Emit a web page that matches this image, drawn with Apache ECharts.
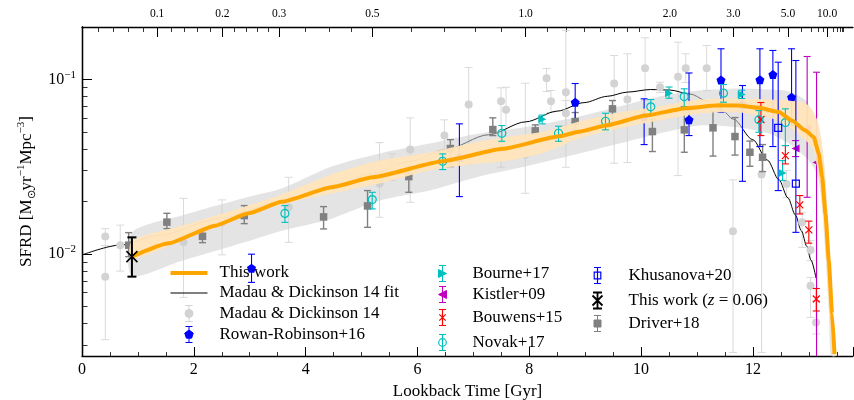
<!DOCTYPE html>
<html>
<head>
<meta charset="utf-8">
<script src="https://cdn.jsdelivr.net/npm/echarts@6/dist/echarts.min.js"></script>
<style>
  html, body { margin: 0; padding: 0; background: #fff; }
  #chart { width: 854px; height: 400px; }
</style>
</head>
<body>
<div id="chart"></div>
<script>
// all values: lookback time [Gyr], SFRD [Msun/yr/Mpc^3]
const thisWorkLine = [[0.893, 0.00965], [1.548, 0.0115], [2.38, 0.01453], [2.977, 0.0171], [3.571, 0.0199], [4.464, 0.02411], [5.202, 0.02751], [6.452, 0.034], [7.523, 0.04004], [8.536, 0.04727], [8.893, 0.0502], [9.37, 0.05447], [10.084, 0.06217], [10.798, 0.06842], [11.393, 0.0712], [11.75, 0.07091], [12.107, 0.06879], [12.464, 0.0651], [12.702, 0.058], [12.941, 0.05098], [13.089, 0.04667], [13.179, 0.03748], [13.238, 0.02751], [13.298, 0.01696], [13.357, 0.00915], [13.416, 0.004526], [13.459, 0.00267]];
const thisWorkBandHi = [[0.893, 0.01192], [1.786, 0.01453], [2.857, 0.01843], [3.571, 0.02189], [4.464, 0.02851], [5.321, 0.0343], [6.214, 0.03813], [6.929, 0.04294], [7.643, 0.0471], [8.268, 0.05031], [8.893, 0.05741], [9.607, 0.06467], [10.321, 0.06998], [11.036, 0.07677], [11.75, 0.0778], [12.286, 0.07677], [12.643, 0.07576], [12.946, 0.07283], [13.089, 0.06467], [13.179, 0.05447], [13.232, 0.04182], [13.286, 0.03006], [13.339, 0.01659], [13.393, 0.00802], [13.446, 0.00414], [13.482, 0.00261]];
const thisWorkBandLo = [[0.893, 0.0094], [1.786, 0.01192], [2.857, 0.01637], [3.571, 0.01918], [4.464, 0.02218], [5.321, 0.02531], [6.214, 0.03006], [6.929, 0.03253], [7.643, 0.0343], [8.268, 0.03813], [8.893, 0.04587], [9.607, 0.05236], [10.321, 0.05818], [11.036, 0.0638], [11.75, 0.06467], [12.286, 0.06053], [12.643, 0.05375], [12.946, 0.04467], [13.089, 0.03913], [13.143, 0.03211], [13.214, 0.02308], [13.268, 0.01453], [13.321, 0.00802], [13.375, 0.00414], [13.429, 0.00261]];
const greyBandHi = [[0.893, 0.01325], [1.786, 0.01659], [3.0, 0.02132], [3.571, 0.0237], [4.464, 0.03168], [5.321, 0.03763], [6.214, 0.04294], [7.107, 0.04899], [8.0, 0.05375], [8.893, 0.06134], [9.607, 0.06998], [10.321, 0.0799], [11.036, 0.08648], [11.75, 0.0888], [12.286, 0.0876], [12.643, 0.08534], [12.946, 0.07576], [13.089, 0.06217], [13.179, 0.05236], [13.25, 0.03913], [13.304, 0.02308], [13.357, 0.01192], [13.411, 0.0054], [13.464, 0.00261]];
const greyBandLo = [[0.893, 0.0075], [1.786, 0.00915], [3.0, 0.01192], [3.571, 0.0136], [4.464, 0.01594], [5.321, 0.02022], [6.214, 0.02308], [7.107, 0.02777], [8.0, 0.03211], [8.893, 0.03763], [9.607, 0.04294], [10.321, 0.04899], [11.036, 0.05447], [11.75, 0.05304], [12.286, 0.04899], [12.643, 0.04294], [12.946, 0.03568], [13.089, 0.03127], [13.179, 0.02634], [13.25, 0.01659], [13.304, 0.00915], [13.357, 0.00473], [13.393, 0.00261]];
const mdFit = [[0, 0.00987], [0.696, 0.01126], [1.343, 0.01275], [2.51, 0.01608], [3.525, 0.01988], [4.414, 0.02415], [5.194, 0.02887], [5.88, 0.034], [6.488, 0.0395], [7.273, 0.04823], [7.936, 0.05719], [8.498, 0.06587], [8.98, 0.0737], [9.395, 0.08011], [9.756, 0.0847], [10.167, 0.0876], [10.515, 0.08703], [10.879, 0.0825], [11.181, 0.07539], [11.435, 0.06729], [11.651, 0.05925], [11.997, 0.0452], [12.259, 0.03451], [12.464, 0.02668], [12.627, 0.02095], [12.76, 0.01671], [12.869, 0.01353], [12.961, 0.0111], [13.038, 0.00922], [13.13, 0.00724]];

// points: [lookback, sfrd, lower, upper]
const md14 = [[0.416, 0.01257, 0.01116, 0.01397], [0.416, 0.00741, 0.003223, 0.01116], [0.684, 0.01123, 0.00797, 0.01463], [1.816, 0.01169, 0.005636, 0.02084], [2.505, 0.01522, 0.00988, 0.02041], [3.696, 0.01851, 0.01166, 0.02751], [5.321, 0.02531, 0.01622, 0.04349], [5.545, 0.03168, 0.02634, 0.03748], [5.87, 0.03966, 0.01977, 0.06029], [6.482, 0.04771, 0.0314, 0.05872], [6.916, 0.07187, 0.03284, 0.1172], [7.495, 0.07507, 0.0314, 0.08962], [7.584, 0.067, 0.04467, 0.09032], [7.929, 0.03698, 0.02227, 0.09524], [8.309, 0.1017, 0.08534, 0.1157], [8.388, 0.07507, 0.06467, 0.08648], [8.655, 0.08456, 0.0314, 0.191], [8.655, 0.06406, 0.05447, 0.07576], [9.518, 0.09486, 0.03311, 0.1373], [9.755, 0.07677, 0.03341, 0.1404], [10.071, 0.1161, 0.07576, 0.1735], [10.339, 0.09032, 0.08423, 0.09649], [10.661, 0.1036, 0.02813, 0.1637], [10.798, 0.1161, 0.0961, 0.1404], [11.173, 0.1161, 0.08648, 0.1567], [11.643, 0.01348, 0.002726, 0.02659], [12.155, 0.02851, 0.002726, 0.0343], [12.602, 0.02521, 0.02104, 0.03006], [12.88, 0.01518, 0.01091, 0.01733], [13.03, 0.01054, 0.00915, 0.01192], [13.03, 0.00658, 0.004328, 0.00734], [13.13, 0.004051, 0.003475, 0.0054]];
const driver18 = [[0.834, 0.01123, 0.00965, 0.01325], [1.518, 0.01522, 0.01397, 0.0171], [2.155, 0.01262, 0.01161, 0.01379], [2.902, 0.01659, 0.01492, 0.01893], [4.321, 0.01631, 0.01391, 0.01868], [5.107, 0.01885, 0.01421, 0.02308], [5.845, 0.02777, 0.02256, 0.03168], [6.589, 0.0402, 0.03168, 0.04526], [7.348, 0.05166, 0.04771, 0.06029], [8.107, 0.05078, 0.04932, 0.05497], [8.821, 0.05741, 0.05166, 0.06467], [9.488, 0.06789, 0.0557, 0.07576], [10.202, 0.05031, 0.03864, 0.05895], [10.773, 0.05146, 0.03828, 0.06492], [11.286, 0.05284, 0.0364, 0.06596], [11.679, 0.0471, 0.03688, 0.06053], [11.946, 0.03828, 0.03181, 0.04437], [12.173, 0.03583, 0.02966, 0.04236]];
const rowanRobinson16 = [[3.032, 0.00829, 0.00687, 0.00997], [6.75, 0.03568, 0.02132, 0.0557], [8.821, 0.07409, 0.05689, 0.09486], [10.054, 0.06134, 0.04236, 0.07749], [10.857, 0.0588, 0.04771, 0.109], [11.429, 0.09934, 0.06492, 0.15], [11.813, 0.07187, 0.02609, 0.09239], [12.125, 0.09961, 0.04127, 0.15], [12.357, 0.1068, 0.04127, 0.1467], [12.691, 0.07913, 0.05447, 0.15]];
const bourne17 = [[8.232, 0.05918, 0.0557, 0.06255], [10.5, 0.08345, 0.07811, 0.09057], [11.8, 0.08202, 0.0778, 0.08683], [12.53, 0.02915, 0.02634, 0.0343]];
const kistler09 = [[12.763, 0.0402, 0.03616, 0.04467], [12.97, 0.05236, 0.02113, 0.1355], [13.138, 0.03341, 0.0025, 0.1101]];
const bouwens15 = [[12.143, 0.05895, 0.04771, 0.07379], [12.58, 0.03664, 0.03284, 0.04182], [12.839, 0.0191, 0.01696, 0.02161], [13.0, 0.01373, 0.01153, 0.01542], [13.134, 0.005518, 0.00471, 0.006339]];
const novak17 = [[3.629, 0.01708, 0.01518, 0.01893], [5.191, 0.0205, 0.01812, 0.02256], [6.452, 0.034, 0.03046, 0.03748], [7.509, 0.04919, 0.04426, 0.05447], [8.523, 0.04919, 0.04426, 0.05397], [9.363, 0.05764, 0.05146, 0.06406], [10.173, 0.06971, 0.06297, 0.07677], [10.771, 0.07988, 0.06998, 0.08843], [11.473, 0.08345, 0.07409, 0.09361], [12.107, 0.0588, 0.04984, 0.06637], [12.58, 0.05666, 0.04182, 0.06789]];
const khusanova20 = [[12.452, 0.05284, 0.02308, 0.1257], [12.768, 0.02531, 0.0133, 0.1285]];
const thisWorkZ006 = [[0.893, 0.00965, 0.00741, 0.01245]];

// axes
const X_MAX = 13.79;
const Y_MIN = 0.0026, Y_MAX = 0.2;
const yMajor = [0.01, 0.1];
const yMajorLabels = ['10{sup|−2}', '10{sup|−1}'];
const yMinor = [0.003, 0.004, 0.005, 0.006, 0.007, 0.008, 0.009, 0.02, 0.03, 0.04, 0.05, 0.06, 0.07, 0.08, 0.09];
const zMajor = [0.1, 0.2, 0.3, 0.5, 1, 2, 3, 5, 10];
const zMajorLabels = ['0.1', '0.2', '0.3', '0.5', '1.0', '2.0', '3.0', '5.0', '10.0'];
const zMinor = [0.02, 0.04, 0.06, 0.08, 0.12, 0.14, 0.16, 0.18, 0.22, 0.24, 0.26, 0.28, 0.35, 0.4, 0.45, 0.6, 0.7, 0.8, 0.9, 1.1, 1.2, 1.3, 1.4, 1.5, 1.6, 1.7, 1.8, 1.9, 2.25, 2.5, 2.75, 3.5, 4, 4.5, 6, 7, 8, 9, 12, 14, 16, 18, 20];

const FONT = 'Liberation Serif';

// flat LCDM (Planck 15) lookback time, for the redshift axis on top
function lookback(z) {
  const H0 = 67.74, Om = 0.3089, OL = 1 - Om;
  const tH = 977.79 / H0;
  const k = Math.sqrt(OL / Om);
  const age = zz => tH * 2 / (3 * Math.sqrt(OL)) * Math.asinh(k * Math.pow(1 + zz, -1.5));
  return age(0) - age(z);
}
const zMajorT = zMajor.map(lookback);
const zMinorT = zMinor.map(lookback);

function errBars(name, rows, color, lw, cap, z) {
  return {
    type: 'custom', name: name, data: rows, z: z, clip: true,
    encode: { x: 0, y: 1 },
    renderItem: function (params, api) {
      const a = api.coord([api.value(0), api.value(2)]);
      const b = api.coord([api.value(0), api.value(3)]);
      const st = { stroke: color, lineWidth: lw };
      return {
        type: 'group', children: [
          { type: 'line', shape: { x1: a[0], y1: a[1], x2: b[0], y2: b[1] }, style: st },
          { type: 'line', shape: { x1: a[0] - cap / 2, y1: a[1], x2: a[0] + cap / 2, y2: a[1] }, style: st },
          { type: 'line', shape: { x1: b[0] - cap / 2, y1: b[1], x2: b[0] + cap / 2, y2: b[1] }, style: st }
        ]
      };
    }
  };
}

function points(name, rows, symbol, size, fill, stroke, bw, z) {
  return {
    type: 'scatter', name: name, data: rows, z: z,
    encode: { x: 0, y: 1 },
    symbol: symbol, symbolSize: size,
    itemStyle: { color: fill, borderColor: stroke, borderWidth: bw, opacity: 1 }
  };
}

function band(hi, lo, fill, z) {
  return {
    type: 'custom', data: [hi[0]], z: z, silent: true,
    encode: { x: 0, y: 1 },
    renderItem: function (params, api) {
      const pts = hi.concat(lo.slice().reverse()).map(p => api.coord(p));
      return { type: 'polygon', shape: { points: pts, smooth: 0.25 }, style: { fill: fill } };
    }
  };
}

const PENTAGON = 'path://M0,-1L0.951,-0.309L0.588,0.809L-0.588,0.809L-0.951,-0.309Z';
const TRI_RIGHT = 'path://M-1,-1L1,0L-1,1Z';
const TRI_LEFT = 'path://M1,-1L-1,0L1,1Z';
const CROSS = 'path://M0,0L1,1M1,0L0,1';

// legend icons drawn as error bars with a marker, in a W x H box
function icon(W, H, cx, capHalf, marker) {
  const cy = H / 2, t = 1, b = H - 1;
  let p = 'M0 0L0 0M' + W + ' ' + H + 'L' + W + ' ' + H;
  if (capHalf > 0) {
    p += 'M' + cx + ' ' + t + 'L' + cx + ' ' + b;
    p += 'M' + (cx - capHalf) + ' ' + t + 'L' + (cx + capHalf) + ' ' + t;
    p += 'M' + (cx - capHalf) + ' ' + b + 'L' + (cx + capHalf) + ' ' + b;
  }
  return 'path://' + p + marker(cx, cy);
}
const mCircle = r => (x, y) => 'M' + (x - r) + ' ' + y + 'A' + r + ' ' + r + ' 0 1 0 ' + (x + r) + ' ' + y + 'A' + r + ' ' + r + ' 0 1 0 ' + (x - r) + ' ' + y + 'Z';
const mSquare = s => (x, y) => 'M' + (x - s) + ' ' + (y - s) + 'L' + (x + s) + ' ' + (y - s) + 'L' + (x + s) + ' ' + (y + s) + 'L' + (x - s) + ' ' + (y + s) + 'Z';
const mPent = r => (x, y) => 'M' + x + ' ' + (y - r) + 'L' + (x + 0.951 * r) + ' ' + (y - 0.309 * r) + 'L' + (x + 0.588 * r) + ' ' + (y + 0.809 * r) + 'L' + (x - 0.588 * r) + ' ' + (y + 0.809 * r) + 'L' + (x - 0.951 * r) + ' ' + (y - 0.309 * r) + 'Z';
const mTriR = r => (x, y) => 'M' + (x - r) + ' ' + (y - r) + 'L' + (x + r) + ' ' + y + 'L' + (x - r) + ' ' + (y + r) + 'Z';
const mTriL = r => (x, y) => 'M' + (x + r) + ' ' + (y - r) + 'L' + (x - r) + ' ' + y + 'L' + (x + r) + ' ' + (y + r) + 'Z';
const mX = r => (x, y) => 'M' + (x - r) + ' ' + (y - r) + 'L' + (x + r) + ' ' + (y + r) + 'M' + (x + r) + ' ' + (y - r) + 'L' + (x - r) + ' ' + (y + r);
const mBar = (x0, x1, h) => (x, y) => 'M' + x0 + ' ' + (y - h / 2) + 'L' + x1 + ' ' + (y - h / 2) + 'L' + x1 + ' ' + (y + h / 2) + 'L' + x0 + ' ' + (y + h / 2) + 'Z';

const LH = 18;
const legendText = {
  fontFamily: FONT, fontSize: 17, color: '#000', lineHeight: LH,
  rich: { i: { fontFamily: FONT, fontSize: 17, fontStyle: 'italic', lineHeight: LH } }
};
function legendBox(left, W, items) {
  return {
    orient: 'vertical', left: left, top: 264, padding: 0,
    itemWidth: W, itemHeight: LH, itemGap: 2,
    selectedMode: false, textStyle: legendText,
    formatter: n => n === 'This work (z = 0.06)' ? 'This work ({i|z} = 0.06)' : n,
    data: items
  };
}

const chart = echarts.init(document.getElementById('chart'), null, { renderer: 'canvas' });
chart.setOption({
  animation: false,
  backgroundColor: '#fff',
  grid: { left: 82, right: 1, top: 27, bottom: 44, containLabel: false, outerBoundsMode: 'none' },
  xAxis: [
    {
      type: 'value', min: 0, max: X_MAX, interval: 2, position: 'bottom',
      name: 'Lookback Time [Gyr]', nameLocation: 'middle', nameGap: 23,
      nameTextStyle: { fontFamily: FONT, fontSize: 17, color: '#000' },
      axisLine: { lineStyle: { color: '#000', width: 1.3 } },
      axisTick: { inside: true, length: 9, lineStyle: { color: '#000', width: 1 } },
      minorTick: { show: true, splitNumber: 4, length: 4, lineStyle: { color: '#000', width: 0.8 } },
      axisLabel: { fontFamily: FONT, fontSize: 16, color: '#000', margin: 6, showMaxLabel: false },
      splitLine: { show: false }
    },
    {
      type: 'value', min: 0, max: X_MAX, position: 'top',
      name: 'z', nameLocation: 'middle', nameGap: 19,
      nameTextStyle: { fontFamily: FONT, fontSize: 14, fontStyle: 'italic', color: '#000' },
      axisLine: { lineStyle: { color: '#000', width: 1.3 } },
      axisTick: { inside: true, length: 10, customValues: zMajorT, lineStyle: { color: '#000', width: 1 } },
      axisLabel: {
        customValues: zMajorT, fontFamily: FONT, fontSize: 11.5, color: '#000', margin: 7,
        formatter: v => {
          let best = 0;
          zMajorT.forEach((t, i) => { if (Math.abs(t - v) < Math.abs(zMajorT[best] - v)) best = i; });
          return zMajorLabels[best];
        }
      },
      splitLine: { show: false }
    },
    {
      type: 'value', min: 0, max: X_MAX, position: 'top',
      axisLine: { show: false },
      axisTick: { inside: true, length: 5, customValues: zMinorT, lineStyle: { color: '#000', width: 0.8 } },
      axisLabel: { show: false },
      splitLine: { show: false }
    }
  ],
  yAxis: [
    {
      type: 'log', logBase: 10, min: Y_MIN, max: Y_MAX, position: 'left',
      name: 'SFRD [M{sub|⊙}yr{sup|−1}Mpc{sup|−3}]', nameLocation: 'middle', nameGap: 41,
      nameTextStyle: {
        fontFamily: FONT, fontSize: 17, color: '#000', lineHeight: 22,
        rich: {
          sub: { fontFamily: FONT, fontSize: 11, lineHeight: 11, verticalAlign: 'bottom' },
          sup: { fontFamily: FONT, fontSize: 11, lineHeight: 11, verticalAlign: 'top' }
        }
      },
      axisLine: { lineStyle: { color: '#000', width: 1.3 } },
      axisTick: { inside: true, length: 10, customValues: yMajor, lineStyle: { color: '#000', width: 1 } },
      axisLabel: {
        customValues: yMajor, fontFamily: FONT, fontSize: 16, color: '#000', margin: 6, lineHeight: 20,
        formatter: v => yMajorLabels[v < 0.05 ? 0 : 1],
        rich: { sup: { fontFamily: FONT, fontSize: 11, lineHeight: 10, verticalAlign: 'top' } }
      },
      splitLine: { show: false }, minorTick: { show: false }
    },
    {
      type: 'log', logBase: 10, min: Y_MIN, max: Y_MAX, position: 'left',
      axisLine: { show: false },
      axisTick: { inside: true, length: 5.5, customValues: yMinor, lineStyle: { color: '#000', width: 0.8 } },
      axisLabel: { show: false }, splitLine: { show: false }
    },
    {
      type: 'log', logBase: 10, min: Y_MIN, max: Y_MAX, position: 'right',
      axisLine: { show: true, lineStyle: { color: '#000', width: 1.3 } },
      axisTick: { show: false }, axisLabel: { show: false }, splitLine: { show: false }
    }
  ],
  legend: [
    legendBox(170, 44, [
      { name: 'This work', icon: icon(44, LH, 18.5, 0, mBar(0, 37, 4)), itemStyle: { color: '#ffa500', borderWidth: 0 } },
      { name: 'Madau & Dickinson 14 fit', icon: icon(44, LH, 18.5, 0, mBar(0, 37, 1.2)), itemStyle: { color: '#000', borderWidth: 0 } },
      { name: 'Madau & Dickinson 14', icon: icon(44, LH, 18.5, 3.5, mCircle(4)), itemStyle: { color: '#d3d3d3', borderColor: '#d3d3d3', borderWidth: 1 } },
      { name: 'Rowan-Robinson+16', icon: icon(44, LH, 18.5, 3.5, mPent(4.5)), itemStyle: { color: '#0000ff', borderColor: '#0000ff', borderWidth: 1 } }
    ]),
    legendBox(430, 35, [
      { name: 'Bourne+17', icon: icon(35, LH, 10, 3.5, mTriR(4)), itemStyle: { color: '#00bfbf', borderColor: '#00bfbf', borderWidth: 1 } },
      { name: 'Kistler+09', icon: icon(35, LH, 10, 3.5, mTriL(4)), itemStyle: { color: '#bf00bf', borderColor: '#bf00bf', borderWidth: 1 } },
      { name: 'Bouwens+15', icon: icon(35, LH, 10, 3.5, mX(3.2)), itemStyle: { color: 'none', borderColor: '#ff0000', borderWidth: 1.2 } },
      { name: 'Novak+17', icon: icon(35, LH, 10, 3.5, mCircle(3.8)), itemStyle: { color: 'none', borderColor: '#00bfbf', borderWidth: 1.2 } }
    ]),
    legendBox(585, 36, [
      { name: 'Khusanova+20', icon: icon(36, LH, 10, 3.5, mSquare(3.3)), itemStyle: { color: 'none', borderColor: '#0000ff', borderWidth: 1.2 } },
      { name: 'This work (z = 0.06)', icon: icon(36, LH, 10, 4.5, mX(5)), itemStyle: { color: 'none', borderColor: '#000', borderWidth: 1.8 } },
      { name: 'Driver+18', icon: icon(36, LH, 10, 3.5, mSquare(3.5)), itemStyle: { color: '#808080', borderColor: '#808080', borderWidth: 1 } }
    ])
  ],
  series: [
    errBars('Madau & Dickinson 14', md14, '#dadada', 1, 8, 1),
    points('Madau & Dickinson 14', md14, 'circle', 8, '#d3d3d3', '#d3d3d3', 0, 1),
    {
      type: 'line', name: 'Madau & Dickinson 14 fit', data: mdFit, z: 1,
      showSymbol: false, symbol: 'none', smooth: 0.3, smoothMonotone: 'x',
      color: '#000', lineStyle: { color: '#000', width: 1 }
    },
    band(greyBandHi, greyBandLo, 'rgba(205,205,205,0.55)', 2),
    errBars('Driver+18', driver18, '#808080', 1.4, 7, 3),
    points('Driver+18', driver18, 'rect', 7.5, '#808080', '#808080', 0, 3),
    errBars('Rowan-Robinson+16', rowanRobinson16, '#0000ff', 1.1, 7, 3),
    points('Rowan-Robinson+16', rowanRobinson16, PENTAGON, 9, '#0000ff', '#0000ff', 0, 3),
    errBars('Kistler+09', kistler09, '#bf00bf', 1.1, 7, 3),
    points('Kistler+09', kistler09, TRI_LEFT, 8, '#bf00bf', '#bf00bf', 0, 3),
    band(thisWorkBandHi, thisWorkBandLo, 'rgba(255,228,186,0.94)', 4),
    errBars('Bourne+17', bourne17, '#00bfbf', 1.1, 7, 5),
    points('Bourne+17', bourne17, TRI_RIGHT, 8, '#00bfbf', '#00bfbf', 0, 5),
    errBars('Bouwens+15', bouwens15, '#ff0000', 1.1, 7, 5),
    points('Bouwens+15', bouwens15, CROSS, 7, 'none', '#ff0000', 1.2, 5),
    errBars('Novak+17', novak17, '#00bfbf', 1.1, 7, 5),
    points('Novak+17', novak17, 'circle', 8, 'none', '#00bfbf', 1.2, 5),
    errBars('Khusanova+20', khusanova20, '#0000ff', 1.1, 7, 5),
    points('Khusanova+20', khusanova20, 'rect', 7, 'none', '#0000ff', 1.2, 5),
    {
      type: 'line', name: 'This work', data: thisWorkLine, z: 6,
      showSymbol: false, symbol: 'none', smooth: 0.15, smoothMonotone: 'x',
      color: '#ffa500', lineStyle: { color: '#ffa500', width: 4 }
    },
    errBars('This work (z = 0.06)', thisWorkZ006, '#000', 2, 9, 7),
    points('This work (z = 0.06)', thisWorkZ006, CROSS, 11, 'none', '#000', 1.6, 7)
  ]
});
</script>
</body>
</html>
